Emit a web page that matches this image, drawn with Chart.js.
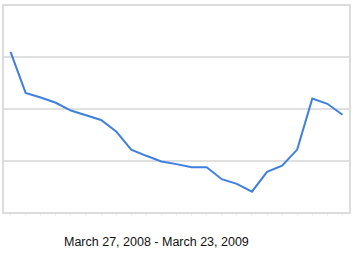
<!DOCTYPE html>
<html>
<head>
<meta charset="utf-8">
<script src="https://cdn.jsdelivr.net/npm/chart.js@4/dist/chart.umd.min.js"></script>
<style>
  html, body { margin: 0; padding: 0; background: #fff; }
  #wrap { position: relative; width: 357px; height: 256px; }
  #chart-box { position: absolute; left: 0; top: 0; width: 357px; height: 216px; }
  #range {
    position: absolute; left: 64px; top: 235px;
    font-family: "Liberation Sans", Arial, sans-serif;
    font-size: 12.5px; color: #111; white-space: nowrap;
  }
</style>
</head>
<body>
<div id="wrap">
  <div id="chart-box"><canvas id="trend-chart"></canvas></div>
  <div id="range">March 27, 2008 - March 23, 2009</div>
</div>
<script>
// values, in grid units (4 bands, no labels shown)
const categories = ['1', '2', '3', '4', '5', '6', '7', '8', '9', '10', '11', '12',
                    '13', '14', '15', '16', '17', '18', '19', '20', '21', '22', '23'];
const trendValues = [3.10, 2.31, 2.22, 2.12, 1.97, 1.88, 1.79, 1.57, 1.22, 1.10, 0.99, 0.94,
                     0.88, 0.88, 0.65, 0.56, 0.41, 0.79, 0.91, 1.22, 2.20, 2.10, 1.89];
const yMin = 0;
const yMax = 4;

// draws the light frame round the plot area
const framePlugin = {
    id: 'frame',
    afterDraw(chart) {
        const { ctx, chartArea: a } = chart;
        ctx.save();
        ctx.strokeStyle = '#dcdcdc';
        ctx.lineWidth = 2;
        ctx.strokeRect(a.left, a.top, a.right - a.left, a.bottom - a.top);
        ctx.restore();
    }
};

const ctx = document.getElementById('trend-chart').getContext('2d');
new Chart(ctx, {
    type: 'line',
    data: {
        labels: categories,
        datasets: [{
            data: trendValues,
            borderColor: '#3f7fdf',
            borderWidth: 2,
            pointRadius: 0,
            tension: 0,
            fill: false
        }]
    },
    options: {
        responsive: true,
        maintainAspectRatio: false,
        animation: false,
        layout: { padding: { left: 3, right: 7, top: 5, bottom: 0 } },
        scales: {
            x: {
                offset: true,
                grid: {
                    offset: false,
                    drawOnChartArea: false,
                    drawTicks: true,
                    tickLength: 3,
                    color: '#f0f0f0'
                },
                border: { display: false },
                ticks: { display: false }
            },
            y: {
                min: yMin,
                max: yMax,
                ticks: { display: false, stepSize: 1 },
                grid: { color: '#e0e0e0', lineWidth: 2, drawTicks: false },
                border: { display: false }
            }
        },
        plugins: {
            legend: { display: false },
            tooltip: { enabled: false }
        }
    },
    plugins: [framePlugin]
});
</script>
</body>
</html>
